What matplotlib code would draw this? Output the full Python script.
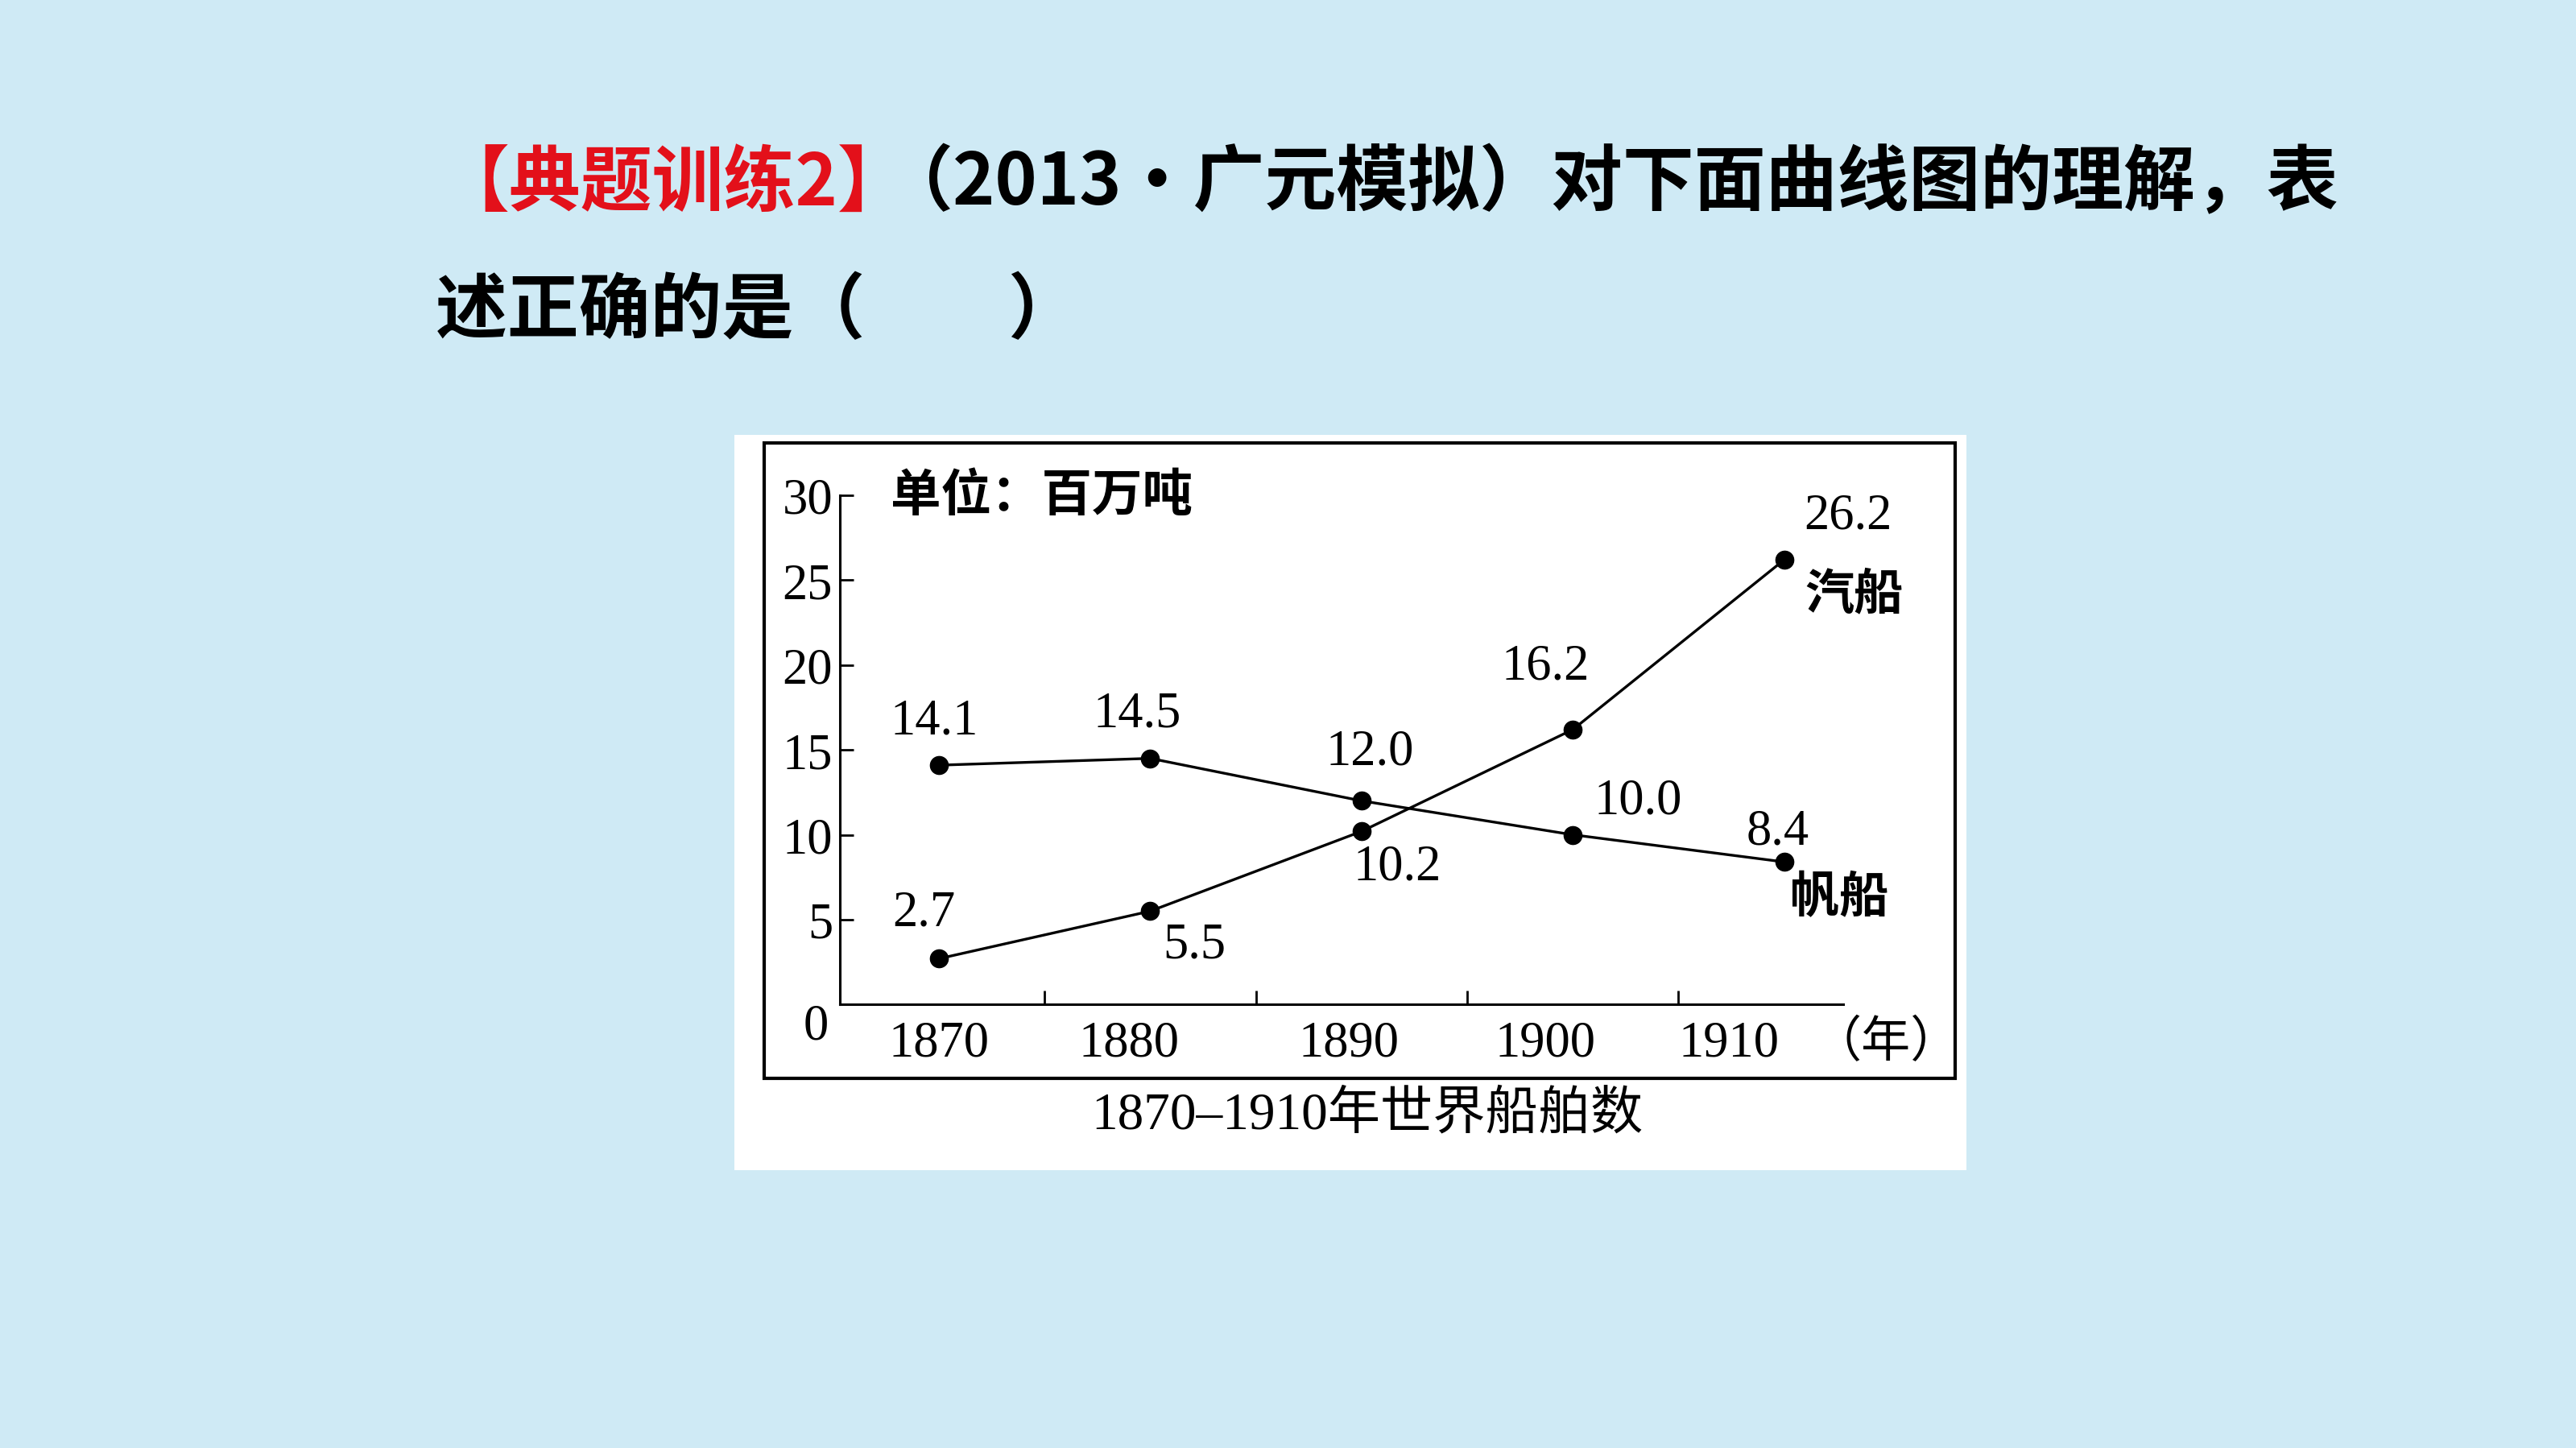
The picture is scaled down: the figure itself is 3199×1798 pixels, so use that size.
# Line chart of world shipping tonnage 1870-1910, shown on a slide
import matplotlib.pyplot as plt
from matplotlib.patches import Rectangle
from matplotlib.transforms import ScaledTranslation

# data (million tons)
years = ['1870', '1880', '1890', '1900', '1910']
steam = [2.7, 5.5, 10.2, 16.2, 26.2]   # 汽船
sail = [14.1, 14.5, 12.0, 10.0, 8.4]   # 帆船
y_ticks = [0, 5, 10, 15, 20, 25, 30]

SERIF = ['Liberation Serif', 'Noto Sans CJK SC']
CJK = ['Noto Sans CJK SC', 'DejaVu Sans']

fig = plt.figure(figsize=(31.99, 17.99), dpi=100)
fig.patch.set_facecolor('#cfeaf5')

# header question text
fig.text(0.170, 0.873, '【典题训练2】', color='#e3101a', fontsize=64,
         family=CJK, weight='bold', va='center', ha='left')
fig.text(0.342, 0.873, '（2013·广元模拟）对下面曲线图的理解，表', color='black',
         fontsize=64, family=CJK, weight='bold', va='center', ha='left')
fig.text(0.169, 0.785, '述正确的是（　　）', color='black', fontsize=64,
         family=CJK, weight='bold', va='center', ha='left')

# white card and black frame around the chart
fig.add_artist(Rectangle((0.2851, 0.1916), 0.4783, 0.5079, transform=fig.transFigure,
                         facecolor='white', edgecolor='none', zorder=0))
fig.add_artist(Rectangle((0.2966, 0.2551), 0.4623, 0.4388, transform=fig.transFigure,
                         fill=False, edgecolor='black', linewidth=3, zorder=1))

ax = fig.add_axes([0.3259, 0.3061, 0.3897, 0.3515])
ax.patch.set_alpha(0)
x = list(range(len(years)))

ax.plot(x, steam, color='black', lw=2.4, marker='o', ms=16, zorder=3)
ax.plot(x, sail, color='black', lw=2.4, marker='o', ms=16, zorder=3)

ax.set_xlim(-0.47, 4.28)
ax.set_ylim(0, 30)
for s in ['top', 'right']:
    ax.spines[s].set_visible(False)
for s in ['left', 'bottom']:
    ax.spines[s].set_linewidth(2.2)

# y axis
ax.set_yticks(y_ticks)
ax.set_yticklabels([str(v) for v in y_ticks], family=SERIF, fontsize=45)
ax.tick_params(axis='y', direction='in', length=12, width=2, pad=6)
zero_lbl = ax.get_yticklabels()[0]
zero_lbl.set_transform(zero_lbl.get_transform() +
                       ScaledTranslation(-0.05, -0.2, fig.dpi_scale_trans))

# x axis: labels at the points, small tick marks between them
lbl_shift = [0.0, -0.1, -0.06, -0.13, -0.26]
ax.set_xticks([xi + d for xi, d in zip(x, lbl_shift)])
ax.set_xticklabels(years, family=SERIF, fontsize=45)
ax.tick_params(axis='x', which='major', length=0, pad=14)
ax.set_xticks([xi + 0.5 for xi in x[:-1]], minor=True)
ax.tick_params(axis='x', which='minor', direction='in', length=12, width=2)

# value labels
fs = 45
sail_off = [(-0.02, 2.6), (-0.06, 2.6), (0.04, 2.9), (0.31, 2.0), (-0.03, 1.8)]
steam_off = [(-0.07, 2.7), (0.21, -2.0), (0.17, -2.1), (-0.13, 3.7), (0.30, 2.6)]
for xi, v, (dx, dy) in zip(x, sail, sail_off):
    ax.text(xi + dx, v + dy, f'{v:.1f}', family=SERIF, fontsize=fs,
            ha='center', va='center')
for xi, v, (dx, dy) in zip(x, steam, steam_off):
    ax.text(xi + dx, v + dy, f'{v:.1f}', family=SERIF, fontsize=fs,
            ha='center', va='center')

ax.text(4.33, 24.2, '汽船', family=CJK, weight='bold', fontsize=44,
        ha='center', va='center')
ax.text(4.26, 6.3, '帆船', family=CJK, weight='bold', fontsize=44,
        ha='center', va='center')
ax.text(-0.23, 30.0, '单位：百万吨', family=CJK, weight='bold', fontsize=45,
        ha='left', va='center')
ax.text(4.48, -2.2, '（年）', family=CJK, fontsize=44, ha='center',
        va='center', clip_on=False)

fig.text(0.5306, 0.2302, '1870–1910年世界船舶数', family=SERIF, fontsize=47,
         ha='center', va='center')

fig.savefig('out.png', dpi=100, facecolor=fig.get_facecolor())
